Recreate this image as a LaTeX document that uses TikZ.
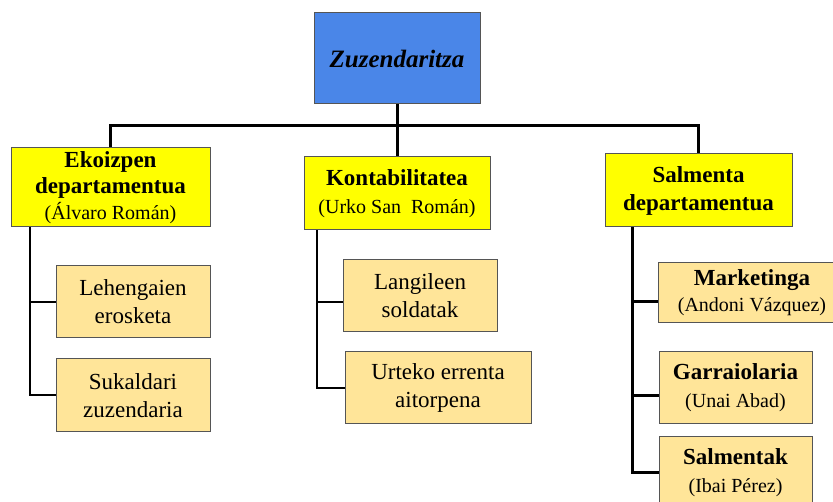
\documentclass[tikz,border=0pt]{standalone}
\usepackage{fontspec}
\setmainfont{Liberation Serif}
\usepackage{xcolor}
\usepackage{tikz}
\usetikzlibrary{positioning,calc}

\definecolor{zuzblue}{RGB}{74,134,232}
\definecolor{deptyellow}{RGB}{255,255,0}
\definecolor{unitfill}{RGB}{255,229,153}
\definecolor{boxline}{RGB}{85,85,85}

% person in charge, a little smaller
\newcommand{\who}[1]{{\fontsize{20}{24}\selectfont(#1)}}

\begin{document}
\begin{tikzpicture}[
    x=1pt, y=-1pt,
    font=\fontsize{23}{28}\selectfont,
    head/.style={rectangle, draw=boxline, fill=zuzblue, line width=1pt, minimum width=166pt, minimum height=91pt, font=\fontsize{25}{30}\selectfont\bfseries\itshape},
    dept/.style={rectangle, draw=boxline, fill=deptyellow, line width=1pt, align=center, inner sep=1pt},
    unit/.style={rectangle, draw=boxline, fill=unitfill, line width=1pt, align=center, inner sep=1pt},
    trunk/.style={draw=black, line width=3pt},
    branch/.style={draw=black, line width=2pt}
]
    \fill [white] (0,0) rectangle (833,502);
    \useasboundingbox (0,0) rectangle (833,502);

    \node (zuz) [head] at (397,58.5) {Zuzendaritza};

    \node (ekoiz) [dept, minimum width=199pt, minimum height=79pt, font=\fontsize{23}{26}\selectfont] at (110.5,187.5) {\textbf{Ekoizpen}\\\textbf{departamentua}\\\who{Álvaro Román}};
    \node (konta) [dept, minimum width=186pt, minimum height=73pt] at (397,193.5) {\textbf{Kontabilitatea}\\\who{Urko San~ Román}};
    \node (salm) [dept, minimum width=187pt, minimum height=73pt] at (698.5,190.5) {\textbf{Salmenta}\\\textbf{departamentua}};

    \node (lehen) [unit, minimum width=154pt, minimum height=72pt] at (133,302) {Lehengaien\\erosketa};
    \node (sukal) [unit, minimum width=154pt, minimum height=73pt] at (133,395.5) {Sukaldari\\zuzendaria};
    \node (langil) [unit, minimum width=154pt, minimum height=72pt] at (420,296) {Langileen\\soldatak};
    \node (urteko) [unit, minimum width=186pt, minimum height=72pt] at (438,388) {Urteko errenta\\aitorpena};
    \node (market) [unit, minimum width=188pt, minimum height=60pt, font=\fontsize{23}{26}\selectfont] at (752,293) {\textbf{Marketinga}\\\who{Andoni Vázquez}};
    \node (garr) [unit, minimum width=153pt, minimum height=72pt] at (735.5,388) {\textbf{Garraiolaria}\\\who{Unai Abad}};
    \node (salmk) [unit, minimum width=153pt, minimum height=72pt] at (735.5,473) {\textbf{Salmentak}\\\who{Ibai Pérez}};

    % main bar
    \draw [trunk] (zuz.south) -- ++(0,21) coordinate (bar);
    \draw [trunk] (bar) -| (ekoiz.north);
    \draw [trunk] (bar) -- (konta.north);
    \draw [trunk] (bar) -| (salm.north);

    % sub units
    \draw [branch] ([xshift=19pt]ekoiz.south west) |- (lehen.west);
    \draw [branch] ([xshift=19pt]ekoiz.south west) |- (sukal.west);
    \draw [branch] ([xshift=13pt]konta.south west) |- ([yshift=-6pt]langil.west);
    \draw [branch] ([xshift=13pt]konta.south west) |- (urteko.west);
    \draw [trunk] ([xshift=28pt]salm.south west) |- ([yshift=-9pt]market.west);
    \draw [trunk] ([xshift=28pt]salm.south west) |- ([yshift=-8pt]garr.west);
    \draw [trunk] ([xshift=28pt]salm.south west) |- (salmk.west);
\end{tikzpicture}
\end{document}
